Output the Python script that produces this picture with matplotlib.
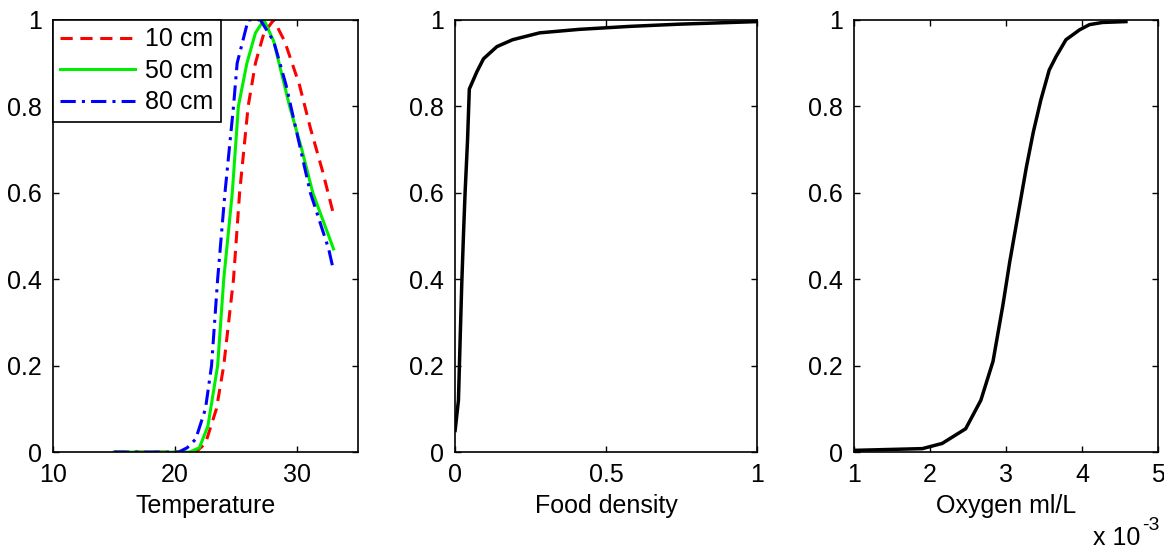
import matplotlib.pyplot as plt
import numpy as np

plt.rcParams['font.family'] = ['Liberation Sans', 'DejaVu Sans']

# Temperature response, three depths
temp_10 = [15, 18, 21, 21.7, 22.5, 23.4, 24.0, 24.8, 25.3, 26.0, 26.6, 27.3, 28.1, 29.0, 30.2, 31.1, 32.1, 33.0]
resp_10 = [0, 0, 0, 0.0, 0.02, 0.1, 0.2, 0.4, 0.6, 0.8, 0.9, 0.97, 1.0, 0.95, 0.85, 0.75, 0.65, 0.55]

temp_50 = [15, 18, 21.2, 22.0, 22.7, 23.5, 24.0, 24.7, 25.2, 25.9, 26.6, 27.3, 28.1, 29.4, 30.4, 31.3, 33.0]
resp_50 = [0, 0, 0, 0.01, 0.06, 0.2, 0.4, 0.6, 0.8, 0.9, 0.97, 1.0, 0.95, 0.8, 0.7, 0.6, 0.47]

temp_80 = [15, 18, 20.3, 21.0, 21.7, 22.5, 23.0, 23.5, 24.1, 24.8, 25.1, 26.0, 27.0, 28.1, 29.1, 29.9, 31.1, 32.6, 33.0]
resp_80 = [0, 0, 0, 0.01, 0.03, 0.1, 0.2, 0.4, 0.6, 0.8, 0.9, 1.0, 1.0, 0.95, 0.85, 0.75, 0.6, 0.47, 0.42]

# Food density response
food_x = [0, 0.011, 0.017, 0.022, 0.028, 0.033, 0.041, 0.047, 0.072, 0.094, 0.138, 0.19, 0.28, 0.41, 0.58, 0.74, 1.0]
food_y = [0.05, 0.12, 0.27, 0.39, 0.51, 0.60, 0.72, 0.84, 0.88, 0.91, 0.938, 0.954, 0.97, 0.978, 0.985, 0.99, 0.996]

# Oxygen response (x in units of 10^-3 ml/L)
oxy_x = [1.0, 1.9, 2.16, 2.47, 2.67, 2.83, 2.96, 3.05, 3.16, 3.27, 3.36, 3.46, 3.57, 3.66, 3.79, 3.97, 4.1, 4.27, 4.58]
oxy_y = [0.004, 0.008, 0.02, 0.054, 0.12, 0.21, 0.34, 0.44, 0.55, 0.66, 0.74, 0.815, 0.884, 0.915, 0.954, 0.977, 0.989, 0.994, 0.996]

yticks = [0, 0.2, 0.4, 0.6, 0.8, 1]
ylabels = ['0', '0.2', '0.4', '0.6', '0.8', '1']
fs = 18

fig = plt.figure(figsize=(11.64, 5.52), dpi=100)
ax1 = fig.add_axes([0.0455, 0.181, 0.262, 0.783])
ax2 = fig.add_axes([0.391, 0.181, 0.2595, 0.783])
ax3 = fig.add_axes([0.7337, 0.181, 0.261, 0.783])

ax1.plot(temp_10, resp_10, color='red', ls=(0, (4, 2.5)), lw=2.2, label='10 cm')
ax1.plot(temp_50, resp_50, color='#00ee00', ls='-', lw=2.2, label='50 cm')
ax1.plot(temp_80, resp_80, color='blue', ls=(0, (5, 2, 1, 2)), lw=2.2, label='80 cm')
ax1.set_xlim(10, 35)
ax1.set_xticks([10, 20, 30])
ax1.set_xticklabels(['10', '20', '30'])
ax1.set_xlabel('Temperature', fontsize=fs, labelpad=5)
leg = ax1.legend(loc='upper left', fontsize=fs, frameon=True, fancybox=False,
                 edgecolor='black', framealpha=1, borderaxespad=0, handlelength=3.0,
                 handletextpad=0.4, borderpad=0.3, labelspacing=0.3)
leg.get_frame().set_linewidth(1.2)

ax2.plot(food_x, food_y, color='black', lw=2.5)
ax2.set_xlim(0, 1)
ax2.set_xticks([0, 0.5, 1])
ax2.set_xticklabels(['0', '0.5', '1'])
ax2.set_xlabel('Food density', fontsize=fs, labelpad=5)

ax3.plot(oxy_x, oxy_y, color='black', lw=2.5)
ax3.set_xlim(1, 5)
ax3.set_xticks([1, 2, 3, 4, 5])
ax3.set_xticklabels(['1', '2', '3', '4', '5'])
ax3.set_xlabel('Oxygen ml/L', fontsize=fs, labelpad=5)
ax3.text(0.785, -0.214, 'x 10', transform=ax3.transAxes, fontsize=fs,
         ha='left', va='baseline')
ax3.text(0.947, -0.180, '-3', transform=ax3.transAxes, fontsize=fs - 4,
         ha='left', va='baseline')

for ax in (ax1, ax2, ax3):
    ax.set_ylim(0, 1)
    ax.set_yticks(yticks)
    ax.set_yticklabels(ylabels)
    ax.tick_params(direction='in', top=True, right=True, length=4, width=1,
                   labelsize=fs, pad=8)
    for sp in ax.spines.values():
        sp.set_linewidth(1.2)

fig.savefig('out.png', dpi=100)
